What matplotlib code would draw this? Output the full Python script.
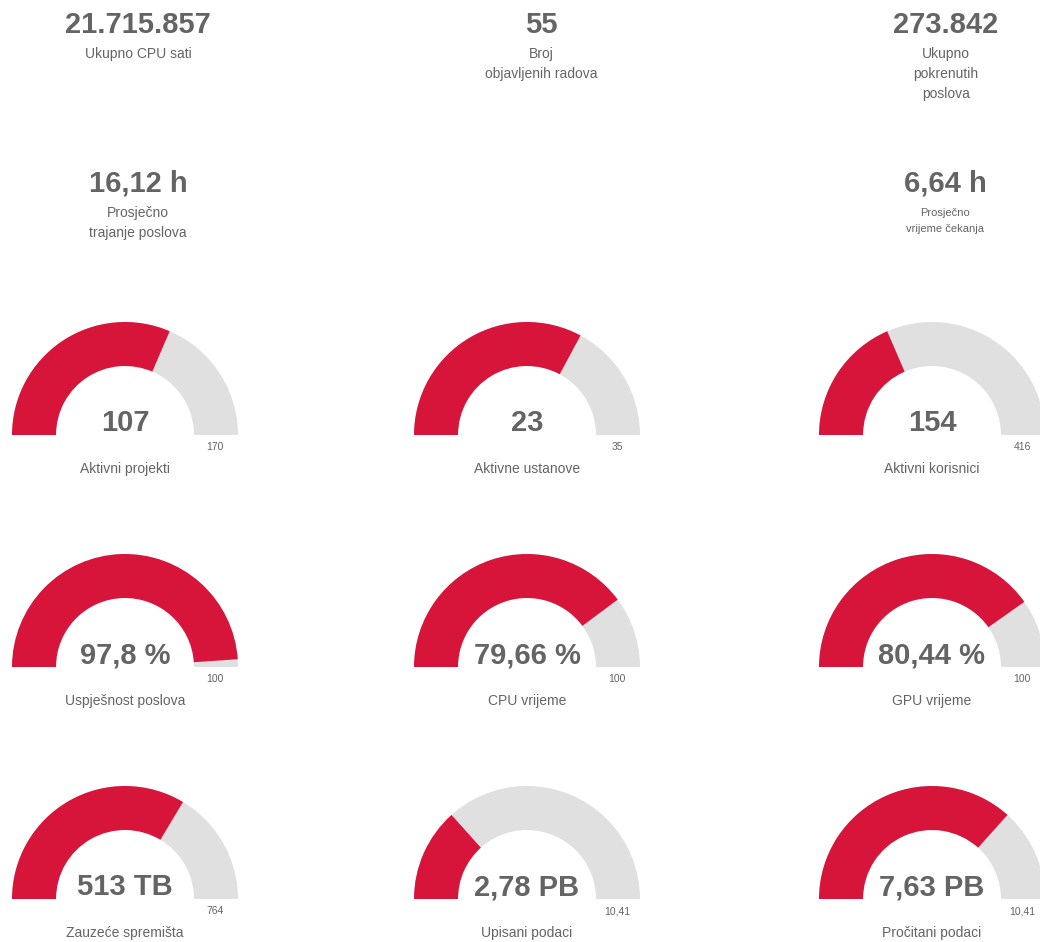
import matplotlib
matplotlib.use("Agg")
import matplotlib.pyplot as plt
from matplotlib.patches import Wedge

plt.rcParams['font.family'] = ['Liberation Sans', 'DejaVu Sans']

W, H = 1040, 942
text_col = "#646464"
red = "#d7153a"
grey = "#e0e0e0"

# top stat blocks
stat_values = ["21.715.857", "55", "273.842", "16,12 h", "6,64 h"]
stat_labels = [["Ukupno CPU sati"],
               ["Broj", "objavljenih radova"],
               ["Ukupno", "pokrenutih", "poslova"],
               ["Prosječno", "trajanje poslova"],
               ["Prosječno", "vrijeme čekanja"]]

# gauges
gauge_values = [107, 23, 154, 97.8, 79.66, 80.44, 513, 2.78, 7.63]
gauge_max = [170, 35, 416, 100, 100, 100, 764, 10.41, 10.41]
gauge_text = ["107", "23", "154", "97,8 %", "79,66 %", "80,44 %", "513 TB", "2,78 PB", "7,63 PB"]
gauge_max_text = ["170", "35", "416", "100", "100", "100", "764", "10,41", "10,41"]
gauge_labels = ["Aktivni projekti", "Aktivne ustanove", "Aktivni korisnici",
                "Uspješnost poslova", "CPU vrijeme", "GPU vrijeme",
                "Zauzeće spremišta", "Upisani podaci", "Pročitani podaci"]

fig = plt.figure(figsize=(W / 100, H / 100), dpi=100)
ax = fig.add_axes([0, 0, 1, 1])
ax.set_xlim(0, W)
ax.set_ylim(0, H)
ax.set_aspect('equal')
ax.axis('off')


def py(y):
    # pixel row from the top -> data y
    return H - y


# stat layout: (x center, y of value, label font size)
stat_pos = [(138, 25, 10), (541, 25, 10), (946, 25, 10), (138, 184, 10), (945, 184, 8)]
for val, lines, (x, y, fs) in zip(stat_values, stat_labels, stat_pos):
    ax.text(x, py(y), val, ha='center', va='center', fontsize=21, fontweight='bold', color=text_col)
    step = 20 if fs == 10 else 16
    for i, line in enumerate(lines):
        ax.text(x, py(y + 29 + i * step), line, ha='center', va='center', fontsize=fs, color=text_col)

col_x = [125, 527, 932]
row_y = [435, 667, 899]
r_out, band = 113, 44

for i in range(len(gauge_values)):
    cx = col_x[i % 3]
    cy = py(row_y[i // 3])
    frac = min(gauge_values[i] / gauge_max[i], 1.0)
    ax.add_patch(Wedge((cx, cy), r_out, 0, 180, width=band, facecolor=grey, edgecolor='none'))
    ax.add_patch(Wedge((cx, cy), r_out, 180 - frac * 180, 180, width=band, facecolor=red, edgecolor='none'))
    ax.text(cx, cy + 12, gauge_text[i], ha='center', va='center', fontsize=21, fontweight='bold', color=text_col)
    ax.text(cx + r_out - band / 2 - 1, cy - 12, gauge_max_text[i], ha='center', va='center', fontsize=7.5, color=text_col)
    ax.text(cx, cy - 34, gauge_labels[i], ha='center', va='center', fontsize=10, color=text_col)

fig.savefig("out.png", dpi=100)
